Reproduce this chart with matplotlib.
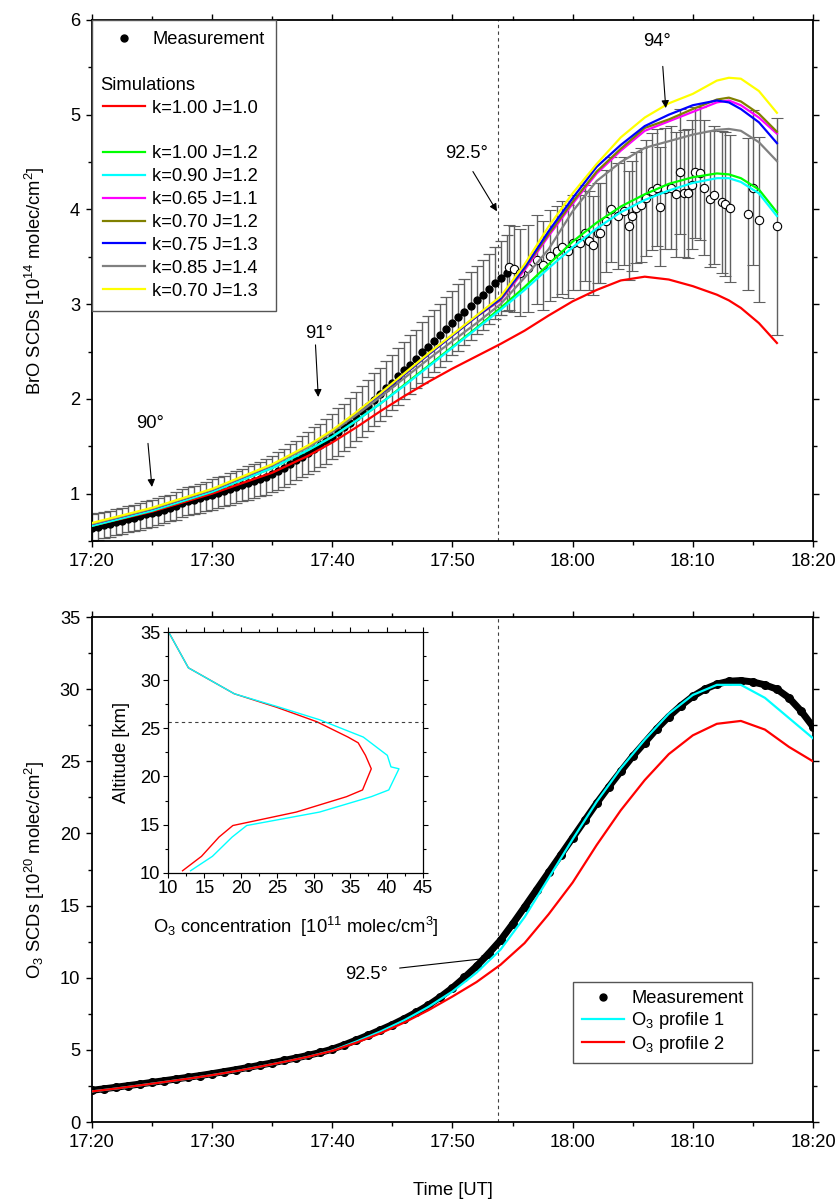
import numpy as np
import matplotlib.pyplot as plt
from matplotlib.lines import Line2D
from matplotlib.ticker import MultipleLocator, FuncFormatter

plt.rcParams['font.family'] = ['Liberation Sans', 'DejaVu Sans']
plt.rcParams['mathtext.fontset'] = 'custom'
plt.rcParams['mathtext.rm'] = 'Liberation Sans'
plt.rcParams['mathtext.it'] = 'Liberation Sans:italic'
plt.rcParams['mathtext.bf'] = 'Liberation Sans:bold'
plt.rcParams['font.size'] = 13.2

T0 = 17 * 60 + 20  # 17:20 in minutes of day; all times below are minutes after 17:20

# ---- BrO measurement, sun still up (filled dots) ----
bro_t_day = np.arange(0, 35, 0.5)
bro_day = [0.64, 0.65, 0.67, 0.68, 0.70, 0.71, 0.73, 0.74, 0.76, 0.78,
           0.79, 0.81, 0.83, 0.85, 0.87, 0.90, 0.92, 0.93, 0.95, 0.97,
           0.99, 1.01, 1.03, 1.05, 1.07, 1.09, 1.11, 1.13, 1.15, 1.18,
           1.21, 1.24, 1.27, 1.31, 1.35, 1.39, 1.43, 1.47, 1.51, 1.55,
           1.60, 1.65, 1.70, 1.75, 1.81, 1.87, 1.93, 1.99, 2.05, 2.11,
           2.17, 2.24, 2.30, 2.36, 2.42, 2.49, 2.55, 2.61, 2.67, 2.74,
           2.80, 2.86, 2.92, 2.98, 3.04, 3.10, 3.16, 3.22, 3.28, 3.33]
bro_day_err = [0.14, 0.14, 0.14, 0.14, 0.14, 0.14, 0.14, 0.14, 0.14, 0.14,
               0.14, 0.14, 0.14, 0.14, 0.15, 0.15, 0.15, 0.15, 0.15, 0.15,
               0.16, 0.16, 0.16, 0.17, 0.17, 0.17, 0.18, 0.18, 0.18, 0.19,
               0.19, 0.20, 0.20, 0.21, 0.21, 0.22, 0.22, 0.23, 0.23, 0.24,
               0.24, 0.25, 0.25, 0.26, 0.26, 0.27, 0.27, 0.28, 0.28, 0.29,
               0.29, 0.30, 0.30, 0.31, 0.31, 0.32, 0.32, 0.33, 0.33, 0.34,
               0.34, 0.35, 0.35, 0.36, 0.36, 0.37, 0.37, 0.38, 0.39, 0.40]

# ---- BrO measurement, twilight (open circles) ----
bro_t_twi = [34.7, 35.1, 35.6, 36.3, 37.0, 37.5, 38.1, 38.7, 39.1, 39.6,
             40.0, 40.6, 41.0, 41.4, 41.7, 42.1, 42.3, 42.8, 43.2, 43.8,
             44.3, 44.7, 44.9, 45.3, 45.7, 46.1, 46.6, 47.0, 47.3, 47.7,
             48.2, 48.6, 48.9, 49.3, 49.6, 49.9, 50.2, 50.6, 50.9, 51.4,
             51.8, 52.4, 52.7, 53.1, 54.6, 55.0, 55.5, 57.0]
bro_twi = [3.39, 3.37, 3.33, 3.38, 3.47, 3.41, 3.51, 3.56, 3.60, 3.56,
           3.65, 3.65, 3.75, 3.67, 3.62, 3.75, 3.75, 3.88, 4.00, 3.93,
           3.98, 3.83, 3.93, 4.02, 4.05, 4.12, 4.19, 4.23, 4.03, 4.22,
           4.23, 4.16, 4.40, 4.17, 4.17, 4.26, 4.39, 4.38, 4.23, 4.11,
           4.15, 4.08, 4.06, 4.01, 3.95, 4.23, 3.89, 3.82]
bro_twi_err = [0.45, 0.45, 0.46, 0.46, 0.47, 0.47, 0.48, 0.48, 0.49, 0.49,
               0.50, 0.50, 0.51, 0.52, 0.52, 0.53, 0.53, 0.54, 0.55, 0.56,
               0.57, 0.58, 0.58, 0.59, 0.60, 0.61, 0.62, 0.62, 0.63, 0.64,
               0.65, 0.66, 0.66, 0.67, 0.68, 0.68, 0.69, 0.70, 0.71, 0.72,
               0.73, 0.75, 0.76, 0.78, 0.80, 0.82, 0.87, 1.15]

# ---- BrO simulations ----
sim_t = [0, 5, 10, 15, 18, 20, 22, 24, 26, 28, 30, 32, 34, 36, 38, 40,
         42, 44, 46, 48, 50, 52, 53, 54, 55.5, 57]
sim_k100_j10 = [0.66, 0.81, 1.00, 1.22, 1.40, 1.54, 1.70, 1.87, 2.03, 2.18, 2.32, 2.45, 2.58,
                2.72, 2.88, 3.03, 3.15, 3.25, 3.29, 3.26, 3.19, 3.10, 3.04, 2.96, 2.80, 2.59]
sim_k100_j12 = [0.66, 0.82, 1.02, 1.27, 1.46, 1.60, 1.77, 1.95, 2.15, 2.35, 2.55, 2.75, 2.96,
                3.18, 3.42, 3.66, 3.86, 4.03, 4.16, 4.27, 4.34, 4.38, 4.37, 4.33, 4.21, 3.97]
sim_k090_j12 = [0.66, 0.82, 1.02, 1.27, 1.46, 1.60, 1.77, 1.95, 2.14, 2.34, 2.54, 2.74, 2.94,
                3.15, 3.38, 3.60, 3.80, 3.97, 4.10, 4.20, 4.28, 4.33, 4.33, 4.29, 4.17, 3.93]
sim_k065_j11 = [0.68, 0.84, 1.04, 1.30, 1.50, 1.66, 1.85, 2.05, 2.26, 2.47, 2.67, 2.87, 3.04,
                3.36, 3.72, 4.06, 4.38, 4.62, 4.83, 4.93, 5.03, 5.13, 5.15, 5.10, 4.97, 4.80]
sim_k070_j12 = [0.68, 0.84, 1.04, 1.30, 1.50, 1.66, 1.85, 2.05, 2.26, 2.47, 2.67, 2.87, 3.05,
                3.38, 3.74, 4.08, 4.40, 4.64, 4.86, 4.95, 5.06, 5.16, 5.18, 5.14, 5.01, 4.82]
sim_k075_j13 = [0.68, 0.84, 1.04, 1.30, 1.50, 1.66, 1.85, 2.05, 2.26, 2.47, 2.67, 2.87, 3.06,
                3.39, 3.77, 4.12, 4.45, 4.68, 4.88, 5.00, 5.10, 5.15, 5.13, 5.06, 4.92, 4.70]
sim_k085_j14 = [0.68, 0.84, 1.04, 1.30, 1.49, 1.65, 1.83, 2.02, 2.22, 2.42, 2.61, 2.80, 3.00,
                3.28, 3.58, 3.98, 4.30, 4.50, 4.65, 4.72, 4.79, 4.84, 4.85, 4.83, 4.71, 4.51]
sim_k070_j13 = [0.69, 0.85, 1.05, 1.31, 1.51, 1.67, 1.86, 2.06, 2.27, 2.48, 2.68, 2.88, 3.08,
                3.42, 3.82, 4.17, 4.48, 4.76, 4.97, 5.12, 5.22, 5.36, 5.39, 5.38, 5.25, 5.02]
sim_labels = ['k=1.00 J=1.0', 'k=1.00 J=1.2', 'k=0.90 J=1.2', 'k=0.65 J=1.1',
              'k=0.70 J=1.2', 'k=0.75 J=1.3', 'k=0.85 J=1.4', 'k=0.70 J=1.3']
sim_colors = ['#ff0000', '#00ff00', '#00ffff', '#ff00ff',
              '#808000', '#0000ff', '#808080', '#ffff00']
sim_values = [sim_k100_j10, sim_k100_j12, sim_k090_j12, sim_k065_j11,
              sim_k070_j12, sim_k075_j13, sim_k085_j14, sim_k070_j13]

# ---- O3 SCDs ----
o3_t_meas = np.arange(0, 61, 1)
o3_meas = [2.20, 2.30, 2.41, 2.52, 2.63, 2.75, 2.86, 2.98, 3.10, 3.22,
           3.35, 3.49, 3.63, 3.78, 3.94, 4.10, 4.27, 4.44, 4.62, 4.82,
           5.05, 5.35, 5.68, 6.02, 6.38, 6.75, 7.16, 7.61, 8.10, 8.67,
           9.30, 10.02, 10.80, 11.67, 12.60, 13.72, 14.90, 16.10, 17.30, 18.50,
           19.70, 20.90, 22.10, 23.22, 24.30, 25.35, 26.30, 27.25, 28.10, 28.85,
           29.50, 30.00, 30.35, 30.55, 30.60, 30.50, 30.30, 30.00, 29.40, 28.50,
           27.40]
o3_t_sim = np.arange(0, 61, 2)
o3_prof1 = [2.12, 2.32, 2.54, 2.77, 3.00, 3.25, 3.53, 3.84, 4.17, 4.52,
            4.95, 5.58, 6.27, 7.06, 7.98, 9.05, 10.35, 11.95, 14.20, 16.90,
            19.60, 22.20, 24.50, 26.50, 28.30, 29.60, 30.30, 30.30, 29.40, 28.00,
            26.60]
o3_prof2 = [2.12, 2.32, 2.54, 2.77, 3.00, 3.25, 3.53, 3.84, 4.17, 4.52,
            4.93, 5.50, 6.15, 6.90, 7.75, 8.70, 9.70, 10.90, 12.40, 14.40,
            16.60, 19.20, 21.60, 23.70, 25.50, 26.80, 27.60, 27.80, 27.20, 26.00,
            25.00]

# ---- O3 profiles (inset) ----
alt_p1 = [35.0, 31.3, 28.6, 27.2, 25.9, 24.1, 22.2, 21.0, 20.8, 18.6, 17.9, 16.3, 14.9, 13.7, 11.7, 10.2]
conc_p1 = [10.1, 12.8, 19.1, 25.3, 30.8, 36.8, 40.1, 40.6, 41.7, 40.3, 37.9, 30.8, 20.8, 18.8, 16.1, 13.1]
alt_p2 = [35.0, 31.3, 28.6, 27.2, 25.7, 24.1, 23.5, 22.2, 20.8, 18.6, 17.9, 16.3, 14.9, 13.7, 11.7, 10.2]
conc_p2 = [10.1, 12.8, 19.1, 24.9, 30.4, 34.7, 36.1, 37.1, 37.9, 36.7, 34.5, 27.6, 18.9, 17.0, 14.6, 12.0]
alt_cut = 25.64

t_sza925 = 33.8

FS = 13.2


def hhmm(v, pos):
    v = int(round(v))
    return '%d:%02d' % (v // 60, v % 60)


def style_axes(ax, ymajor, yminor):
    ax.set_xlim(T0, T0 + 60)
    ax.xaxis.set_major_locator(MultipleLocator(10))
    ax.xaxis.set_minor_locator(MultipleLocator(5))
    ax.xaxis.set_major_formatter(FuncFormatter(hhmm))
    ax.yaxis.set_major_locator(MultipleLocator(ymajor))
    ax.yaxis.set_minor_locator(MultipleLocator(yminor))
    ax.tick_params(which='both', direction='out', top=True, right=True, width=1.0)
    ax.tick_params(which='major', length=4.5, pad=4)
    ax.tick_params(which='minor', length=2.8)
    for s in ax.spines.values():
        s.set_linewidth(1.3)


def arrow(ax, tail, tip):
    ax.annotate('', xy=tip, xytext=tail,
                arrowprops=dict(arrowstyle='-|>', color='k', lw=0.8,
                                mutation_scale=11, shrinkA=0, shrinkB=0))


fig = plt.figure(figsize=(8.37, 12.04), dpi=100)

# ================= top: BrO =================
ax1 = fig.add_axes([0.1099, 0.5507, 0.8614, 0.4327])
style_axes(ax1, 1, 0.5)
ax1.set_ylim(0.5, 6)

ax1.axvline(T0 + t_sza925, color='#404040', ls=(0, (3, 3)), lw=0.8, zorder=1)

eb = ax1.errorbar(T0 + bro_t_day, bro_day, yerr=bro_day_err, fmt='o', ms=5,
                  mfc='k', mec='k', ecolor='#606060', elinewidth=1.0,
                  capsize=4, capthick=0.9, zorder=2)
for cap in eb[1]:
    cap.set_color('k')
eb = ax1.errorbar(T0 + np.array(bro_t_twi), bro_twi, yerr=bro_twi_err, fmt='o', ms=6,
                  mfc='white', mec='k', mew=0.8, ecolor='#606060', elinewidth=1.0,
                  capsize=4, capthick=0.9, zorder=2)
for cap in eb[1]:
    cap.set_color('k')

sim_handles = []
for lab, col, vals in zip(sim_labels, sim_colors, sim_values):
    ln, = ax1.plot(T0 + np.array(sim_t), vals, color=col, lw=1.6, zorder=3, label=lab)
    sim_handles.append(ln)

ax1.set_ylabel('BrO SCDs [10$^{14}$ molec/cm$^2$]', fontsize=FS)
ax1.yaxis.set_label_coords(-0.062, 0.5)

ax1.text(T0 + 4.83, 1.74, '90°', ha='center', va='center', fontsize=FS)
arrow(ax1, (T0 + 4.66, 1.53), (T0 + 4.99, 1.07))
ax1.text(T0 + 18.9, 2.69, '91°', ha='center', va='center', fontsize=FS)
arrow(ax1, (T0 + 18.6, 2.57), (T0 + 18.83, 2.02))
ax1.text(T0 + 31.2, 4.59, '92.5°', ha='center', va='center', fontsize=FS)
arrow(ax1, (T0 + 31.7, 4.40), (T0 + 33.7, 3.98))
ax1.text(T0 + 47.0, 5.77, '94°', ha='center', va='center', fontsize=FS)
arrow(ax1, (T0 + 47.5, 5.51), (T0 + 47.75, 5.07))

blank = Line2D([], [], color='none')
meas_h = Line2D([], [], ls='none', marker='o', ms=5, color='k')
handles = [meas_h, blank, blank, sim_handles[0], blank] + sim_handles[1:]
labels = ['Measurement', ' ', ' ', sim_labels[0], ' '] + sim_labels[1:]
leg1 = ax1.legend(handles, labels, loc='upper left', bbox_to_anchor=(0, 1),
                  borderaxespad=0, fancybox=False, edgecolor='#555555',
                  framealpha=1, handlelength=2.3, handletextpad=0.4,
                  labelspacing=0.32, borderpad=0.6, fontsize=FS)
leg1.get_frame().set_linewidth(1.0)

# ================= bottom: O3 =================
ax2 = fig.add_axes([0.1099, 0.0681, 0.8614, 0.4194])
style_axes(ax2, 5, 2.5)
ax2.set_ylim(0, 35)

ax2.axvline(T0 + t_sza925, color='#404040', ls=(0, (3, 3)), lw=0.8, zorder=1)
ax2.plot(T0 + o3_t_meas, o3_meas, color='k', lw=5, marker='o', ms=5.5, zorder=2)
ax2.plot(T0 + o3_t_sim, o3_prof1, color='#00ffff', lw=1.6, zorder=3)
ax2.plot(T0 + o3_t_sim, o3_prof2, color='#ff0000', lw=1.6, zorder=4)

ax2.set_ylabel('O$_3$ SCDs [10$^{20}$ molec/cm$^2$]', fontsize=FS)
ax2.yaxis.set_label_coords(-0.062, 0.5)
ax2.set_xlabel('Time [UT]', fontsize=FS)
ax2.xaxis.set_label_coords(0.5, -0.135)
ax2.xaxis.label.set_va('center')

ax2.text(T0 + 22.85, 10.19, '92.5°', ha='center', va='center', fontsize=FS)
arrow(ax2, (T0 + 25.6, 10.67), (T0 + 33.1, 11.37))

h_meas = Line2D([], [], ls='none', marker='o', ms=5, color='k')
h_p1 = Line2D([], [], color='#00ffff', lw=1.6)
h_p2 = Line2D([], [], color='#ff0000', lw=1.6)
leg2 = ax2.legend([h_meas, h_p1, h_p2], ['Measurement', 'O$_3$ profile 1', 'O$_3$ profile 2'],
                  loc='upper right', bbox_to_anchor=(0.915, 0.277), borderaxespad=0,
                  fancybox=False, edgecolor='#555555', framealpha=1,
                  handlelength=2.3, handletextpad=0.4, labelspacing=0.15,
                  borderpad=0.45, fontsize=FS)
leg2.get_frame().set_linewidth(1.0)

# ================= inset: O3 profiles =================
axin = fig.add_axes([0.2007, 0.2752, 0.3047, 0.1997])
axin.plot(conc_p2, alt_p2, color='#ff0000', lw=1.0)
axin.plot(conc_p1, alt_p1, color='#00ffff', lw=1.0)
axin.axhline(alt_cut, color='#404040', ls=(0, (3, 3)), lw=0.8)
axin.set_xlim(10, 45)
axin.set_ylim(10, 35)
axin.xaxis.set_major_locator(MultipleLocator(5))
axin.xaxis.set_minor_locator(MultipleLocator(2.5))
axin.yaxis.set_major_locator(MultipleLocator(5))
axin.yaxis.set_minor_locator(MultipleLocator(2.5))
axin.tick_params(which='both', direction='out', top=True, right=True, width=0.8)
axin.tick_params(which='major', length=3.5, pad=2)
axin.tick_params(which='minor', length=2)
for s in axin.spines.values():
    s.set_linewidth(0.9)
axin.set_xlabel('O$_3$ concentration  [10$^{11}$ molec/cm$^3$]', fontsize=FS)
axin.xaxis.set_label_coords(0.5, -0.225)
axin.xaxis.label.set_va('center')
axin.set_ylabel('Altitude [km]', fontsize=FS)
axin.yaxis.set_label_coords(-0.15, 0.5)

# "Simulations" header sits in the blank third legend row, flush left
fig.canvas.draw()
tx = leg1.get_texts()
y_r0 = tx[0].get_window_extent().y0
y_r3 = tx[3].get_window_extent().y0
fb = leg1.get_frame().get_window_extent()
x_d = fb.x0 + 8
y_d = y_r3 + (y_r0 - y_r3) / 3.0
xa, ya = ax1.transAxes.inverted().transform((x_d, y_d))
ax1.text(xa, ya, 'Simulations', ha='left', va='bottom', fontsize=FS,
         transform=ax1.transAxes, zorder=10)

fig.savefig('out.png', dpi=100)
